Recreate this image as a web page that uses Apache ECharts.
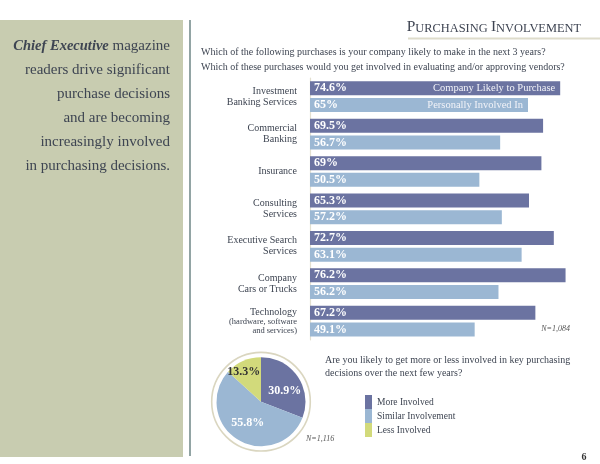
<!DOCTYPE html>
<html>
<head>
<meta charset="utf-8">
<script src="https://cdn.jsdelivr.net/npm/echarts@6/dist/echarts.min.js"></script>
<style>
html,body{margin:0;padding:0;background:#fff;}
#main{width:600px;height:464px;}
</style>
</head>
<body>
<div id="main"></div>
<script>
const categories = ['Investment\nBanking Services', 'Commercial\nBanking', 'Insurance', 'Consulting\nServices', 'Executive Search\nServices', 'Company\nCars or Trucks', 'Technology\n(hardware, software\nand services)'];
const companyLikely = [74.6, 69.5, 69, 65.3, 72.7, 76.2, 67.2];
const personallyInvolved = [65, 56.7, 50.5, 57.2, 63.1, 56.2, 49.1];
const barSeriesNames = ['Company Likely to Purchase', 'Personally Involved In'];
const pieNames = ['More Involved', 'Similar Involvement', 'Less Involved'];
const pieValues = [30.9, 55.8, 13.3];
const sideLines = ['{i|Chief Executive} magazine', 'readers drive significant', 'purchase decisions', 'and are becoming', 'increasingly involved', 'in purchasing decisions.'];
const question1 = ['Which of the following purchases is your company likely to make in the next 3 years?', 'Which of these purchases would you get involved in evaluating and/or approving vendors?'];
const question2 = ['Are you likely to get more or less involved in key purchasing', 'decisions over the next few years?'];

const SERIF = 'Liberation Serif';
const DARK = '#6B73A1';
const LIGHT = '#9BB7D3';
const YEL = '#D2DA7B';
const TXT = '#3E4552';

const chart = echarts.init(document.getElementById('main'), null, {renderer: 'canvas'});

const graphics = [];
graphics.push({type: 'rect', shape: {x: 0, y: 20, width: 183, height: 437}, style: {fill: '#C8CCB0'}, silent: true});
graphics.push({type: 'line', shape: {x1: 190, y1: 20, x2: 190, y2: 456}, style: {stroke: '#6E8686', lineWidth: 1.5}, silent: true});
sideLines.forEach((t, i) => {
  graphics.push({type: 'text', x: 170, y: 46 + i * 24.1, style: {text: t, fontFamily: SERIF, fontSize: 15, fill: TXT, align: 'right', verticalAlign: 'middle',
    rich: {i: {fontFamily: SERIF, fontSize: 14.5, fontStyle: 'italic', fontWeight: 'bold', fill: TXT}}}});
});
// title
graphics.push({type: 'text', x: 581, y: 27, style: {text: '{a|P}{b|URCHASING} {a|I}{b|NVOLVEMENT}', align: 'right', verticalAlign: 'middle', fill: '#3E4452',
  rich: {a: {fontFamily: SERIF, fontSize: 15.5, fill: '#3E4452', verticalAlign: 'bottom'}, b: {fontFamily: SERIF, fontSize: 12.4, fill: '#3E4452', verticalAlign: 'bottom'}}}});
graphics.push({type: 'line', shape: {x1: 408, y1: 38.5, x2: 600, y2: 38.5}, style: {stroke: '#DEDCCB', lineWidth: 2}, silent: true});
question1.forEach((t, i) => {
  graphics.push({type: 'text', x: 201, y: 52 + i * 15.5, style: {text: t, fontFamily: SERIF, fontSize: 10, fill: TXT, verticalAlign: 'middle'}});
});
question2.forEach((t, i) => {
  graphics.push({type: 'text', x: 325, y: 360 + i * 13.5, style: {text: t, fontFamily: SERIF, fontSize: 10, fill: TXT, verticalAlign: 'middle'}});
});
graphics.push({type: 'text', x: 570, y: 328.5, style: {text: 'N=1,084', fontFamily: SERIF, fontSize: 8, fontStyle: 'italic', fill: '#555', align: 'right', verticalAlign: 'middle'}});
graphics.push({type: 'text', x: 306, y: 439, style: {text: 'N=1,116', fontFamily: SERIF, fontSize: 8, fontStyle: 'italic', fill: '#555', align: 'left', verticalAlign: 'middle'}});
graphics.push({type: 'text', x: 584, y: 457, style: {text: '6', fontFamily: SERIF, fontSize: 10, fontWeight: 'bold', fill: '#333', align: 'center', verticalAlign: 'middle'}});
// pie ring
graphics.push({type: 'circle', shape: {cx: 261, cy: 401.7, r: 49.3}, style: {fill: 'none', stroke: '#DAD6C0', lineWidth: 1.6}, silent: true, z: -1});

const option = {
  animation: false,
  backgroundColor: '#fff',
  textStyle: {fontFamily: SERIF},
  grid: {left: 310, top: 78, width: 268.3, height: 261.8, containLabel: false},
  xAxis: {type: 'value', min: 0, max: 80, show: false},
  yAxis: {
    type: 'category', data: categories, inverse: true, offset: 7,
    axisLine: {show: true, lineStyle: {color: '#E3E0D0', width: 1.2}},
    axisTick: {show: false},
    axisLabel: {
      margin: 6, fontFamily: SERIF, fontSize: 10, color: TXT, lineHeight: 11, align: 'right',
      formatter: function (v, idx) {
        if (idx === 6) {
          const p = v.split('\n');
          return '{a|' + p[0] + '}\n{s|' + p[1] + '}\n{s|' + p[2] + '}';
        }
        return v;
      },
      rich: {a: {fontFamily: SERIF, fontSize: 10, color: TXT, lineHeight: 10, align: 'right'}, s: {fontFamily: SERIF, fontSize: 8.5, color: TXT, lineHeight: 9, align: 'right'}}
    }
  },
  legend: {
    data: pieNames, orient: 'vertical', left: 365, top: 395, itemWidth: 7, itemHeight: 14, itemGap: 0, padding: 0,
    icon: 'rect', selectedMode: false,
    textStyle: {fontFamily: SERIF, fontSize: 9.5, color: TXT}
  },
  series: [
    {
      type: 'bar', name: barSeriesNames[0], data: companyLikely, barWidth: 14, barGap: '19%',
      itemStyle: {color: DARK},
      label: {show: true, position: 'insideLeft', distance: 4, formatter: '{c}%', color: '#fff', fontFamily: SERIF, fontWeight: 'bold', fontSize: 12}
    },
    {
      type: 'bar', name: barSeriesNames[1], data: personallyInvolved, barWidth: 14,
      itemStyle: {color: LIGHT},
      label: {show: true, position: 'insideLeft', distance: 4, formatter: '{c}%', color: '#fff', fontFamily: SERIF, fontWeight: 'bold', fontSize: 12}
    },
    {
      type: 'pie', center: [261, 401.7], radius: 44.5, startAngle: 90, clockwise: true,
      data: pieNames.map((n, i) => ({name: n, value: pieValues[i]})),
      color: [DARK, LIGHT, YEL],
      itemStyle: {borderWidth: 0},
      label: {show: true, position: 'inside', formatter: '{c}%', color: '#fff', fontFamily: SERIF, fontWeight: 'bold', fontSize: 12},
      labelLine: {show: false},
      silent: true
    }
  ],
  graphic: graphics
};
option.series[2].data[2].label = {color: '#333', offset: [-7, -7]};
option.series[2].data[0].label = {offset: [3, 3]};

chart.setOption(option);

// series name labels at the right end of the first bars
const extra = [];
[companyLikely, personallyInvolved].forEach((arr, si) => {
  const p = chart.convertToPixel({gridIndex: 0}, [arr[0], 0]);
  extra.push({type: 'text', x: p[0] - 5, y: p[1] + (si === 0 ? -8.3 : 8.3),
    style: {text: barSeriesNames[si], fontFamily: SERIF, fontSize: 10.5, fill: '#F2F3F8', align: 'right', verticalAlign: 'middle'}, z: 10});
});
chart.setOption({graphic: graphics.concat(extra)});
</script>
</body>
</html>
